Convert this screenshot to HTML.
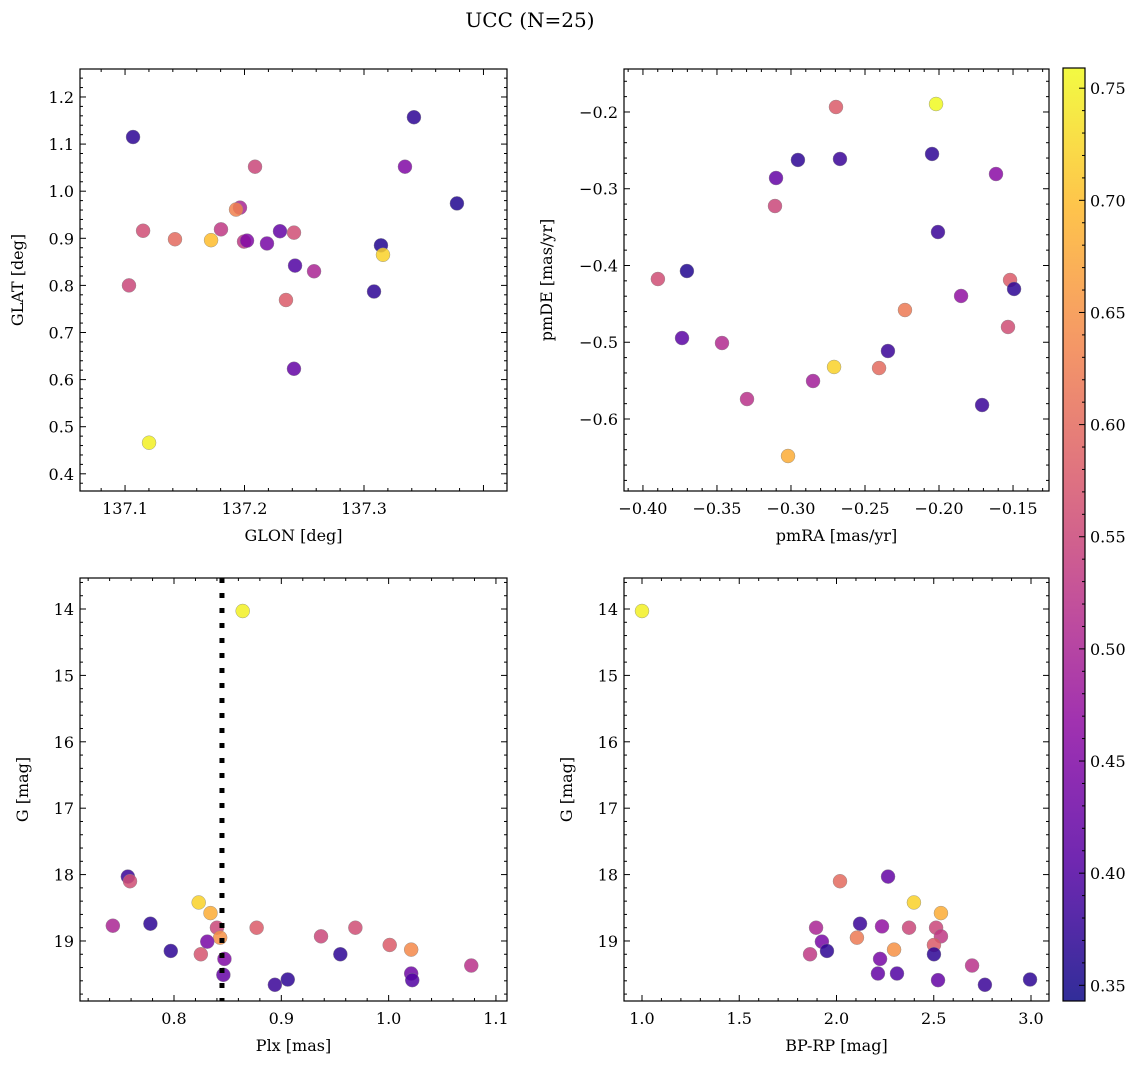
<!DOCTYPE html>
<html><head><meta charset="utf-8"><style>
body{margin:0;background:#fff;}
svg text{font-family:"DejaVu Serif","Liberation Serif",serif;fill:#000;}
</style></head><body>
<svg id="fig" width="1148" height="1068" xmlns="http://www.w3.org/2000/svg">
<text x="530" y="27" font-size="20" text-anchor="middle">UCC (N=25)</text>
</svg>
<script>
// Panel 1: GLON / GLAT
const glon=[137.1067,137.3418,137.3343,137.2088,137.3778,137.1962,137.1929,137.1151,137.1418,137.1720,137.1803,137.1996,137.2021,137.2188,137.2297,137.2414,137.3142,137.3159,137.2423,137.2582,137.1033,137.2347,137.3084,137.2414,137.1201];
const glat=[1.115,1.157,1.052,1.052,0.974,0.965,0.961,0.916,0.898,0.896,0.919,0.893,0.895,0.889,0.915,0.912,0.885,0.865,0.842,0.830,0.800,0.769,0.787,0.623,0.466];
const c1=[0.37,0.37,0.45,0.55,0.36,0.50,0.63,0.56,0.60,0.70,0.53,0.53,0.45,0.44,0.42,0.56,0.36,0.72,0.40,0.50,0.55,0.58,0.37,0.42,0.75];
// Panel 2: pmRA / pmDE
const pmra=[-0.2696,-0.2020,-0.2953,-0.2669,-0.2047,-0.3101,-0.1615,-0.3108,-0.2007,-0.3899,-0.3703,-0.1520,-0.1493,-0.1851,-0.2230,-0.1534,-0.3736,-0.3466,-0.2345,-0.2709,-0.2405,-0.2851,-0.3297,-0.1709,-0.3020];
const pmde=[-0.1935,-0.1896,-0.2625,-0.2612,-0.2547,-0.286,-0.2808,-0.3225,-0.3564,-0.4176,-0.4072,-0.4189,-0.4306,-0.4397,-0.458,-0.4801,-0.4945,-0.501,-0.5114,-0.5322,-0.5336,-0.5505,-0.574,-0.5818,-0.6482];
const c2=[0.58,0.76,0.37,0.38,0.37,0.42,0.46,0.55,0.38,0.56,0.36,0.58,0.37,0.47,0.62,0.56,0.41,0.51,0.38,0.72,0.60,0.49,0.52,0.38,0.68];
// Panel 3: Plx / G
const plx=[0.864,0.757,0.759,0.823,0.834,0.743,0.778,0.840,0.843,0.877,0.969,0.937,0.831,0.797,0.825,0.847,1.001,1.021,0.955,1.077,1.021,1.022,0.846,0.906,0.894];
const g3=[14.03,18.03,18.10,18.42,18.58,18.77,18.74,18.80,18.95,18.80,18.80,18.93,19.01,19.15,19.20,19.27,19.06,19.13,19.20,19.37,19.49,19.59,19.51,19.58,19.66];
const c3=[0.75,0.38,0.56,0.72,0.68,0.50,0.37,0.55,0.65,0.58,0.56,0.55,0.44,0.37,0.57,0.45,0.58,0.64,0.37,0.52,0.43,0.40,0.42,0.37,0.38];
const plxLine=[0.8447];
// Panel 4: BP-RP / G
const bprp=[1.0,2.265,2.018,2.398,2.537,1.895,2.121,2.234,2.373,2.512,2.537,2.105,1.925,1.951,1.864,2.296,2.501,2.501,2.224,2.697,2.213,2.311,2.522,2.995,2.763];
const g4=[14.03,18.03,18.10,18.42,18.58,18.80,18.74,18.78,18.80,18.80,18.93,18.95,19.01,19.15,19.20,19.13,19.06,19.20,19.27,19.37,19.49,19.49,19.59,19.58,19.66];
const c4=[0.75,0.42,0.60,0.72,0.68,0.50,0.38,0.47,0.55,0.55,0.53,0.62,0.44,0.37,0.53,0.65,0.58,0.37,0.44,0.52,0.42,0.40,0.42,0.37,0.38];
// tick labels
const xt1=[137.1,137.2,137.3], yt1=[0.4,0.5,0.6,0.7,0.8,0.9,1.0,1.1,1.2];
const xt2=[-0.40,-0.35,-0.30,-0.25,-0.20,-0.15], yt2=[-0.6,-0.5,-0.4,-0.3,-0.2];
const xt3=[0.8,0.9,1.0,1.1], yt3=[14,15,16,17,18,19];
const xt4=[1.0,1.5,2.0,2.5,3.0], yt4=[14,15,16,17,18,19];
const cbt=[0.35,0.40,0.45,0.50,0.55,0.60,0.65,0.70,0.75];
const cmin=0.343,cmax=0.759;

const NS="http://www.w3.org/2000/svg";
const svg=document.getElementById('fig');
function mk(t,a,p){const e=document.createElementNS(NS,t);for(const k in a)e.setAttribute(k,a[k]);(p||svg).appendChild(e);return e;}
const stops=[[13,8,135],[84,2,163],[139,10,165],[185,50,137],[219,92,104],[244,136,73],[254,188,43],[240,249,33]];
function cmap(v){let t=(v-cmin)/(cmax-cmin);t=Math.max(0,Math.min(1,t))*(stops.length-1);const i=Math.min(stops.length-2,Math.floor(t)),f=t-i;const a=stops[i],b=stops[i+1];return `rgb(${a.map((x,k)=>Math.round(x+(b[k]-x)*f)).join(',')})`;}
function fmt(v,d){const s=Math.abs(v).toFixed(d);return (v<-1e-9?'\u2212':'')+s;}

function panel(o){
  const {L,R,T,B,x0,x1,y0,y1,xs,ys,cs,xt,yt,xd,yd,xminor,yminor,xl,yl,name}=o;
  const g=mk('g',{});
  
  
  const X=v=>L+(v-x0)/(x1-x0)*(R-L), Y=v=>T+(v-y0)/(y1-y0)*(B-T);
  for(let i=0;i<xs.length;i++){
    const c=mk('circle',{cx:X(xs[i]),cy:Y(ys[i]),r:7,fill:cmap(cs[i]),'fill-opacity':0.85,stroke:'#888','stroke-width':0.4},g);
    
    
  }
  if(o.vline){o.vline.forEach(v=>{const l=mk('line',{x1:X(v),x2:X(v),y1:T,y2:B,stroke:'#000','stroke-width':5,'stroke-dasharray':'5 10'},g);});}
  const fr=mk('rect',{x:L,y:T,width:R-L,height:B-T,fill:'none',stroke:'#000','stroke-width':1.2},g);
  
  const step=xt[1]-xt[0];
  for(let v=xt[0]-step*3;v<=x1+1e-9;v+=step/xminor){if(v<Math.min(x0,x1)-1e-9)continue;const px=X(v);const maj=Math.abs(Math.round((v-xt[0])/step)-(v-xt[0])/step)<1e-6;const len=maj?6:3;mk('line',{x1:px,x2:px,y1:B,y2:B-len,stroke:'#000','stroke-width':1},g);mk('line',{x1:px,x2:px,y1:T,y2:T+len,stroke:'#000','stroke-width':1},g);}
  xt.forEach(v=>{const t=mk('text',{x:X(v),y:B+23,'font-size':16,'text-anchor':'middle'},g);t.textContent=fmt(v,xd);});
  const ystep=yt[1]-yt[0];
  const ylo=Math.min(y0,y1),yhi=Math.max(y0,y1);
  for(let v=yt[0]-ystep*3;v<=yhi+1e-9;v+=ystep/yminor){if(v<ylo-1e-9)continue;const py=Y(v);const maj=Math.abs(Math.round((v-yt[0])/ystep)-(v-yt[0])/ystep)<1e-6;const len=maj?6:3;mk('line',{x1:L,x2:L+len,y1:py,y2:py,stroke:'#000','stroke-width':1},g);mk('line',{x1:R,x2:R-len,y1:py,y2:py,stroke:'#000','stroke-width':1},g);}
  yt.forEach(v=>{const t=mk('text',{x:L-6,y:Y(v)+6,'font-size':16,'text-anchor':'end'},g);t.textContent=fmt(v,yd);});
  const tx=mk('text',{x:(L+R)/2,y:B+50,'font-size':16,'text-anchor':'middle'},g);tx.textContent=xl;
  const ty=mk('text',{x:0,y:0,'font-size':16,'text-anchor':'middle',transform:`translate(${o.ylx},${(T+B)/2}) rotate(-90)`},g);ty.textContent=yl;
}
panel({name:'glon-glat-panel',L:80,R:507,T:69,B:491,x0:137.0623,x1:137.4197,y0:1.2594,y1:0.3635,xs:glon,ys:glat,cs:c1,xt:xt1,yt:yt1,xd:1,yd:1,xminor:5,yminor:5,xl:'GLON [deg]',yl:'GLAT [deg]',ylx:23});
panel({name:'pm-panel',L:624,R:1049,T:69,B:491,x0:-0.4128,x1:-0.1257,y0:-0.144,y1:-0.6938,xs:pmra,ys:pmde,cs:c2,xt:xt2,yt:yt2,xd:2,yd:1,xminor:5,yminor:5,xl:'pmRA [mas/yr]',yl:'pmDE [mas/yr]',ylx:552});
panel({name:'plx-g-panel',L:80,R:507,T:578,B:1001,x0:0.7124,x1:1.1103,y0:13.533,y1:19.904,xs:plx,ys:g3,cs:c3,xt:xt3,yt:yt3,xd:1,yd:0,xminor:5,yminor:5,xl:'Plx [mas]',yl:'G [mag]',ylx:28,vline:plxLine});
panel({name:'cmd-panel',L:624,R:1049,T:578,B:1001,x0:0.9075,x1:3.0925,y0:13.533,y1:19.904,xs:bprp,ys:g4,cs:c4,xt:xt4,yt:yt4,xd:1,yd:0,xminor:5,yminor:5,xl:'BP-RP [mag]',yl:'G [mag]',ylx:572});

const cb=mk('g',{});


const CL=1063,CR=1085,CT=68,CB=1001;
const defs=mk('defs',{},cb);const lg=mk('linearGradient',{id:'cg',x1:0,y1:1,x2:0,y2:0},defs);
for(let i=0;i<=20;i++){const v=cmin+(cmax-cmin)*i/20;mk('stop',{offset:i/20,'stop-color':cmap(v),'stop-opacity':0.85},lg);}
mk('rect',{x:CL,y:CT,width:CR-CL,height:CB-CT,fill:'url(#cg)',stroke:'#000','stroke-width':1.2},cb);
const CY=v=>CB-(v-cmin)/(cmax-cmin)*(CB-CT);
for(let v=0.34;v<=cmax+1e-9;v+=0.01){if(v<cmin)continue;const maj=Math.abs(Math.round(v*20)-v*20)<1e-6;mk('line',{x1:CR,x2:CR-(maj?6:3),y1:CY(v),y2:CY(v),stroke:'#000','stroke-width':1},cb);}
cbt.forEach(v=>{const t=mk('text',{x:CR+5,y:CY(v)+6,'font-size':16},cb);t.textContent=v.toFixed(2);});
</script>
</body></html>
